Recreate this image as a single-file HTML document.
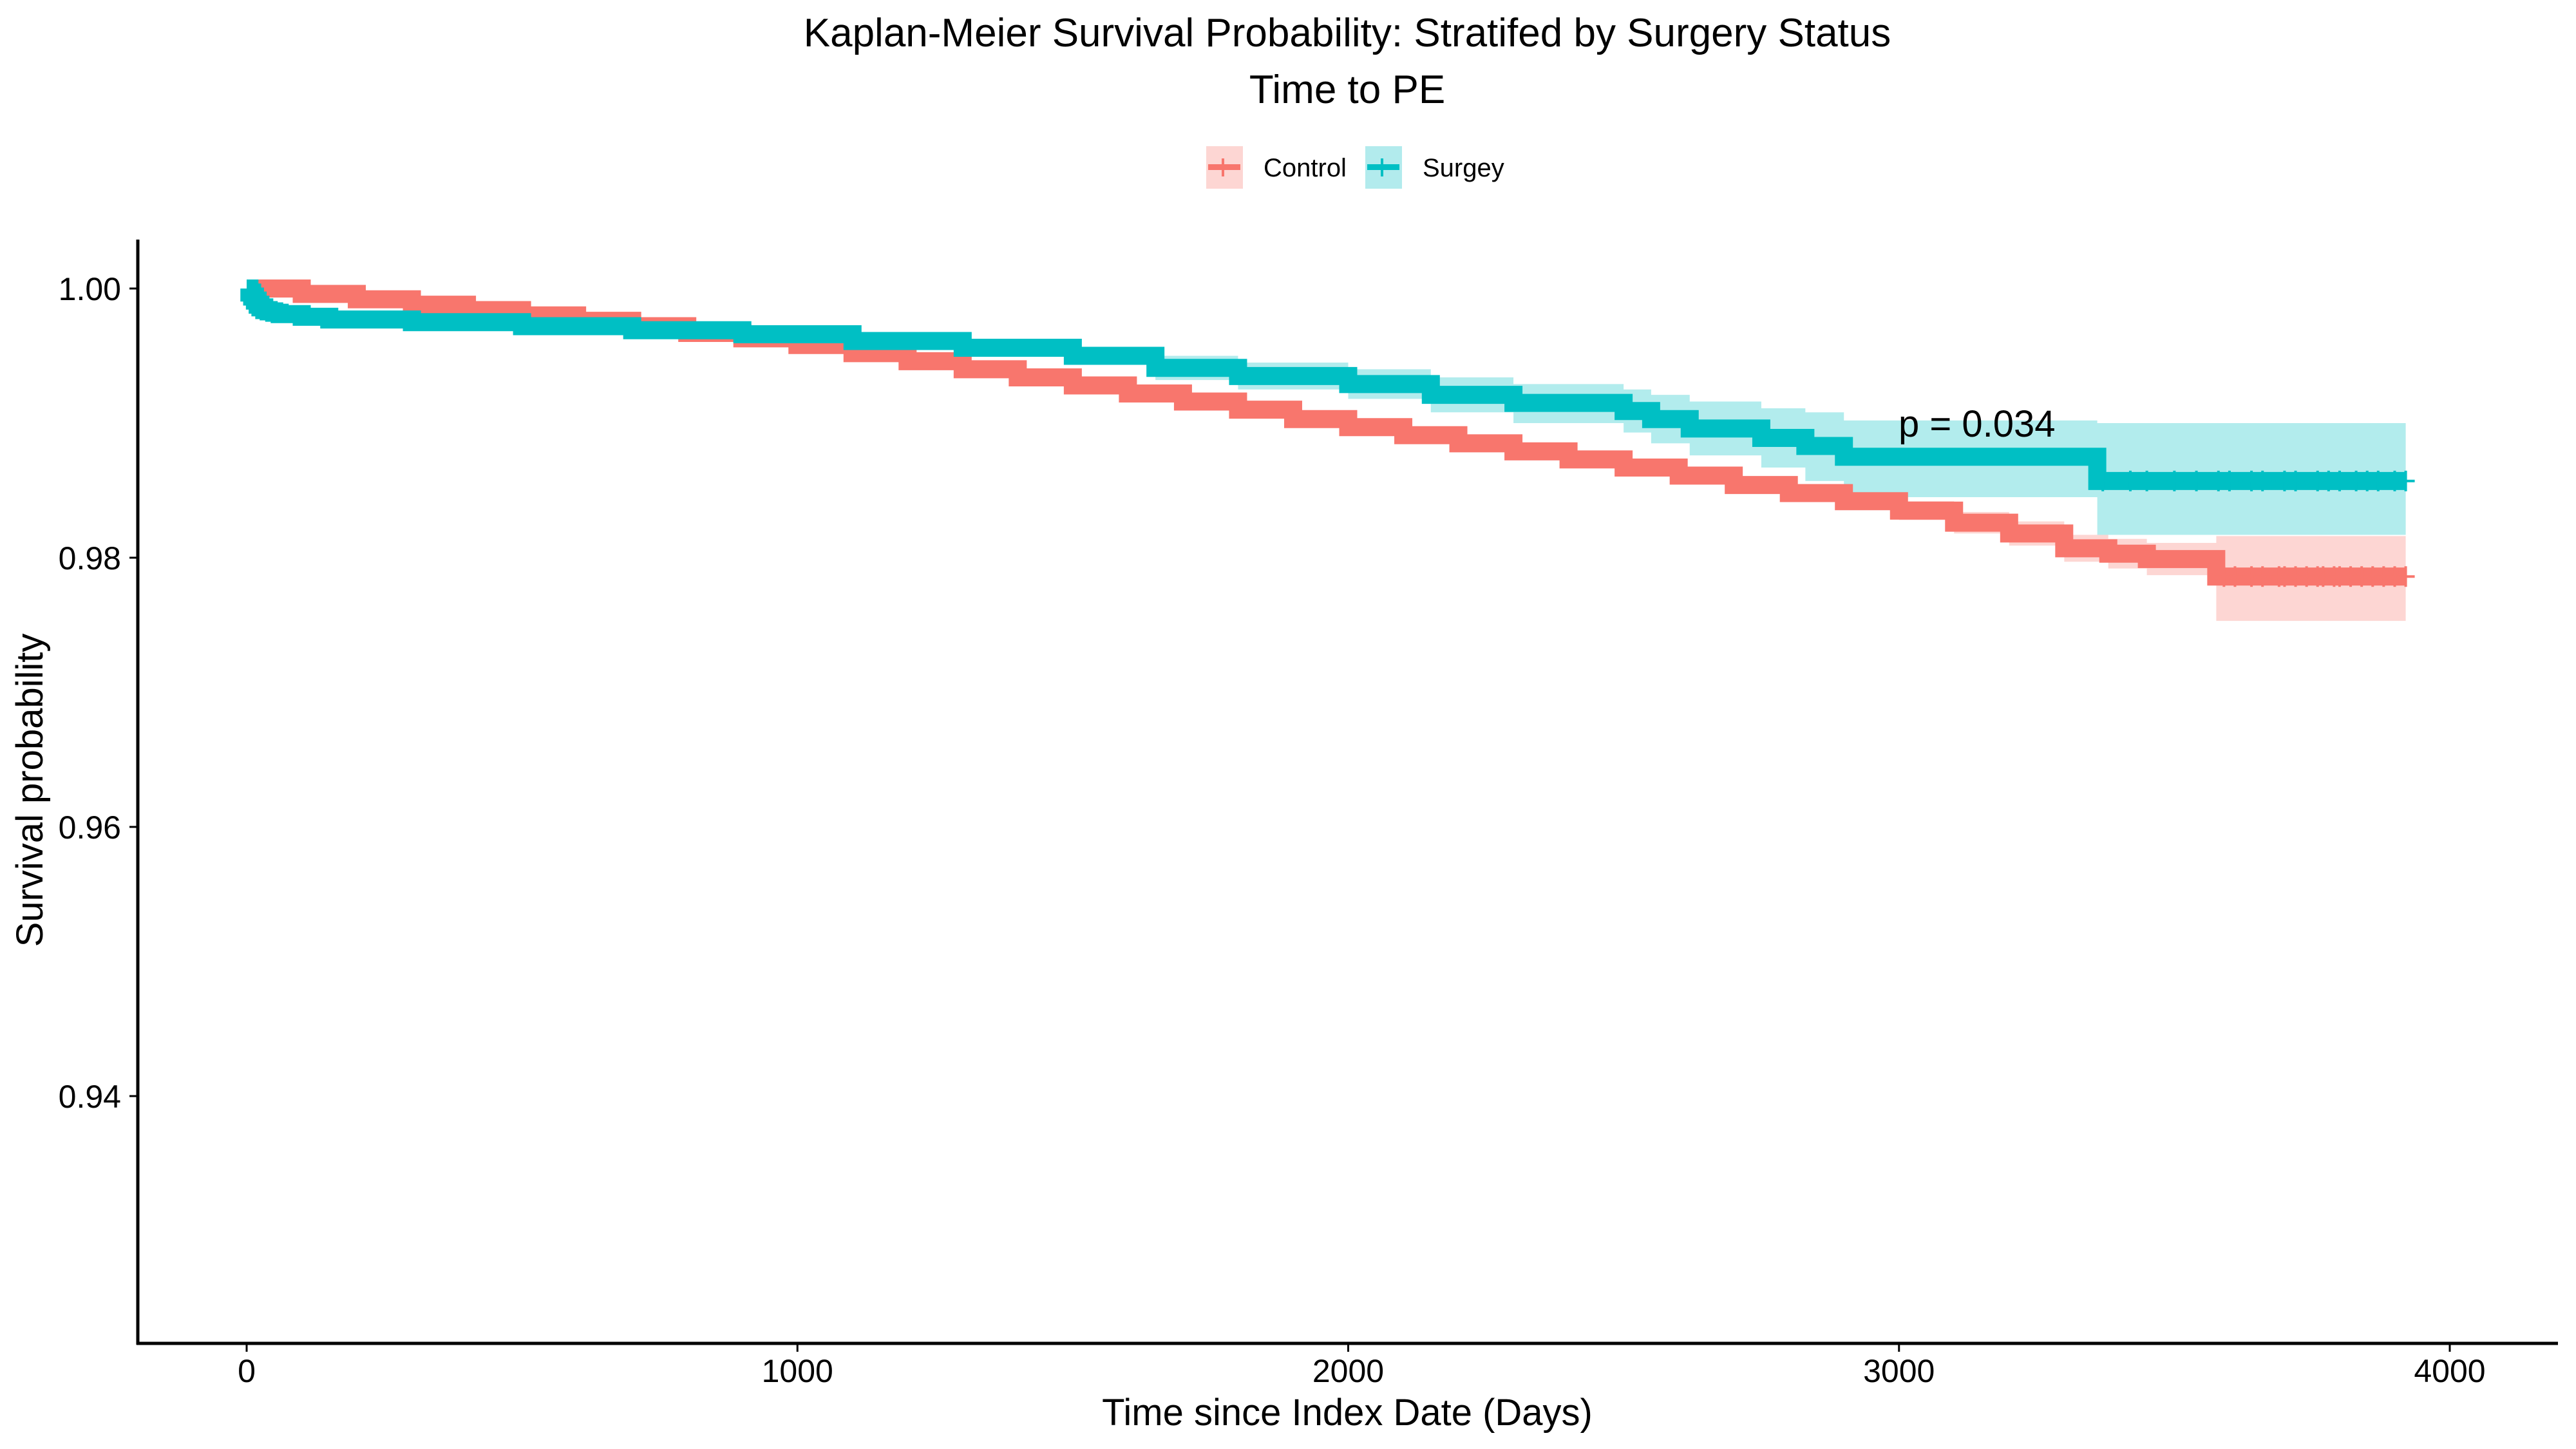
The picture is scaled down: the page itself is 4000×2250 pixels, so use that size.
<!DOCTYPE html>
<html><head><meta charset="utf-8">
<style>
html,body{margin:0;padding:0;background:#fff;}
svg{display:block;font-family:"Liberation Sans",Arial,sans-serif;}
</style></head>
<body>
<svg id="chart" width="4000" height="2250" viewBox="0 0 4000 2250" xmlns="http://www.w3.org/2000/svg">
<rect width="4000" height="2250" fill="#fff"/>
<text x="2092" y="72" font-size="62" text-anchor="middle">Kaplan-Meier Survival Probability: Stratifed by Surgery Status</text>
<text x="2092" y="160" font-size="62" text-anchor="middle">Time to PE</text>
<g>
  <g>
    <rect x="1873" y="227" width="57" height="66" fill="#FDD6D3"/>
    <rect x="1876" y="255" width="50" height="9" fill="#F8766D"/>
    <rect x="1897" y="246" width="4" height="28" fill="#F8766D"/>
    <text x="1962" y="274" font-size="40">Control</text>
  </g>
  <g>
    <rect x="2120" y="227" width="57" height="66" fill="#B2EBED"/>
    <rect x="2123" y="255" width="50" height="9" fill="#00BFC4"/>
    <rect x="2144" y="246" width="4" height="28" fill="#00BFC4"/>
    <text x="2209" y="274" font-size="40">Surgey</text>
  </g>
</g>
<g id="plot"></g>
<g id="axes"></g>
<text x="2948" y="678" font-size="58">p = 0.034</text>
<text x="2092" y="2213" font-size="58" text-anchor="middle">Time since Index Date (Days)</text>
<text x="0" y="0" font-size="58" text-anchor="middle" transform="translate(66,1227) rotate(-90)">Survival probability</text>
</svg>
<script>
// Control data
const ctlT  = [0,100,200,300,400,500,600,700,800,900,1000,1100,1200,1300,1400,1500,1600,1700,1800,1900,2000,2100,2200,2300,2400,2500,2600,2700,2800,2900,3000,3100,3200,3300,3380,3450,3576];
const ctlS  = [1.0000,0.9996,0.9992,0.9988,0.9984,0.9980,0.9976,0.9972,0.9967,0.9963,0.9958,0.9952,0.9946,0.9940,0.9934,0.9928,0.9922,0.9916,0.9910,0.9903,0.9897,0.9891,0.9885,0.9879,0.9873,0.9867,0.9861,0.9854,0.9848,0.9842,0.9835,0.9826,0.9818,0.9807,0.9803,0.9799,0.9786];
const ctlHW = [0,0.00004,0.00008,0.0001,0.00012,0.00014,0.00016,0.00018,0.0002,0.00022,0.00024,0.00026,0.00028,0.0003,0.00032,0.00034,0.00036,0.00038,0.0004,0.00042,0.00044,0.00046,0.00048,0.0005,0.00052,0.00054,0.00056,0.00058,0.0006,0.00064,0.0007,0.0008,0.0009,0.0010,0.0011,0.0012,0.0032];
const ctlEnd = 3920;
const ctlCensor = [3590,3610,3640,3660,3690,3700,3720,3740,3760,3770,3790,3800,3820,3840,3860,3880,3900,3920];
// Surgery data
const surT  = [0,5,10,15,20,25,32,40,50,60,100,150,300,500,700,900,1100,1300,1500,1650,1800,2000,2150,2300,2500,2550,2620,2750,2830,2900,3360];
const surS  = [1.0000,0.9997,0.9994,0.9991,0.9988,0.9986,0.9984,0.9983,0.9982,0.9981,0.9979,0.9977,0.9975,0.9972,0.9969,0.9966,0.9961,0.9956,0.9950,0.9941,0.9935,0.9929,0.9921,0.9915,0.9909,0.9903,0.9896,0.9889,0.9883,0.9875,0.9857];
const surLo = [1.0000,0.9996,0.9993,0.9990,0.9987,0.9984,0.9982,0.9981,0.9980,0.9979,0.9977,0.9974,0.9972,0.9969,0.9966,0.9962,0.9957,0.9951,0.9944,0.9932,0.9925,0.9918,0.9908,0.9900,0.9893,0.9885,0.9876,0.9867,0.9857,0.9845,0.9817];
const surHi = [1.0000,0.9998,0.9996,0.9993,0.9990,0.9988,0.9986,0.9985,0.9984,0.9983,0.9981,0.9980,0.9978,0.9975,0.9972,0.9970,0.9965,0.9961,0.9956,0.9950,0.9945,0.9940,0.9934,0.9929,0.9925,0.9921,0.9916,0.9911,0.9908,0.9902,0.9900];
const surEnd = 3920;
const surCensor = [3370,3420,3450,3500,3540,3580,3600,3640,3660,3700,3720,3760,3780,3800,3830,3850,3870,3900,3920];
const xTicks = [0,1000,2000,3000,4000];
const yTicks = [1.00,0.98,0.96,0.94];
const yTickLabels = ["1.00","0.98","0.96","0.94"];

const NS = "http://www.w3.org/2000/svg";
const X0 = 214, X1 = 3972, Y0 = 372, Y1 = 2086;
function xs(t){ return 383 + t * (3804 - 383) / 4000; }
function ys(v){ return 448 + (1 - v) * (418 / 0.02); }
const plot = document.getElementById('plot');
const axes = document.getElementById('axes');
function mk(tag, attrs, parent){ const e = document.createElementNS(NS, tag); for (const k in attrs) e.setAttribute(k, attrs[k]); parent.appendChild(e); return e; }

function stepPath(T, V, end){
  let d = 'M' + xs(T[0]) + ',' + ys(V[0]);
  for (let i = 1; i < T.length; i++){ d += 'H' + xs(T[i]) + 'V' + ys(V[i]); }
  d += 'H' + xs(end);
  return d;
}
function bandPath(T, lo, hi, end){
  let up = 'M' + xs(T[0]) + ',' + ys(hi[0]);
  for (let i = 1; i < T.length; i++){ up += 'H' + xs(T[i]) + 'V' + ys(hi[i]); }
  up += 'H' + xs(end) + 'V' + ys(lo[lo.length-1]);
  for (let i = T.length - 1; i >= 1; i--){ up += 'H' + xs(T[i]) + 'V' + ys(lo[i-1]); }
  up += 'H' + xs(T[0]) + 'Z';
  return up;
}
const ctlLo = ctlS.map((s,i)=> s - ctlHW[i] * (i === ctlS.length-1 ? 1.03 : 1));
const ctlHi = ctlS.map((s,i)=> s + ctlHW[i] * (i === ctlS.length-1 ? 0.94 : 1));

const b1 = mk('path', {d: bandPath(ctlT, ctlLo, ctlHi, ctlEnd), fill:'#F8766D', 'fill-opacity':0.3}, plot);


const b2 = mk('path', {d: bandPath(surT, surLo, surHi, surEnd), fill:'#00BFC4', 'fill-opacity':0.3}, plot);



const l1 = mk('path', {d: stepPath(ctlT, ctlS, ctlEnd), fill:'none', stroke:'#F8766D', 'stroke-width':28}, plot);


const l2 = mk('path', {d: stepPath(surT, surS, surEnd), fill:'none', stroke:'#00BFC4', 'stroke-width':28}, plot);



function censors(times, T, V, color, name){
  const g = mk('g', {}, plot);
  
  
  times.forEach(t => {
    let v = V[0];
    for (let i = 0; i < T.length; i++) if (T[i] <= t) v = V[i];
    const y = ys(v);
    const m = mk('path', {d:'M'+xs(t)+','+(y-16)+'V'+(y+16)+'M'+(xs(t)-14)+','+y+'H'+(xs(t)+14), stroke:color, 'stroke-width':4}, g);
    
    
  });
}
censors(ctlCensor, ctlT, ctlS, '#F8766D', 'control-censor-marks');
censors(surCensor, surT, surS, '#00BFC4', 'surgey-censor-marks');

// axes
const ya = mk('line', {x1:X0, y1:Y0, x2:X0, y2:Y1+2, stroke:'#000', 'stroke-width':5}, axes);


const xa = mk('line', {x1:X0-2, y1:Y1, x2:X1, y2:Y1, stroke:'#000', 'stroke-width':5}, axes);


xTicks.forEach(t => {
  const tk = mk('line', {x1:xs(t), y1:Y1, x2:xs(t), y2:Y1+13, stroke:'#000', 'stroke-width':3}, axes);
  
  
  const tx = mk('text', {x:xs(t), y:2146, 'font-size':50, 'text-anchor':'middle'}, axes);
  tx.textContent = String(t);
  
  
});
yTicks.forEach((v,i) => {
  const tk = mk('line', {x1:X0-13, y1:ys(v), x2:X0, y2:ys(v), stroke:'#000', 'stroke-width':3}, axes);
  
  
  const tx = mk('text', {x:X0-26, y:ys(v)+18, 'font-size':50, 'text-anchor':'end'}, axes);
  tx.textContent = yTickLabels[i];
  
  
});
</script>
</body></html>
